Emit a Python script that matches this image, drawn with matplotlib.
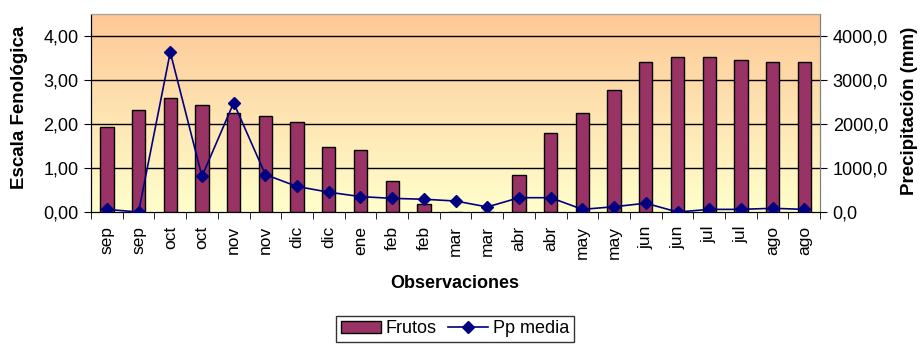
import numpy as np
import matplotlib.pyplot as plt
from matplotlib.colors import LinearSegmentedColormap

plt.rcParams['font.family'] = ['Liberation Sans', 'DejaVu Sans']

meses = ['sep', 'sep', 'oct', 'oct', 'nov', 'nov', 'dic', 'dic', 'ene', 'feb', 'feb',
         'mar', 'mar', 'abr', 'abr', 'may', 'may', 'jun', 'jun', 'jul', 'jul', 'ago', 'ago']
frutos = [1.93, 2.32, 2.58, 2.44, 2.25, 2.18, 2.05, 1.47, 1.40, 0.71, 0.19,
          0.0, 0.0, 0.85, 1.79, 2.25, 2.77, 3.40, 3.52, 3.52, 3.46, 3.40, 3.40]
pp_media = [60, 0, 3630, 810, 2480, 850, 580, 450, 350, 310, 290,
            250, 115, 325, 325, 60, 120, 200, 0, 60, 60, 85, 60]

fig = plt.figure(figsize=(9.23, 3.47), dpi=100)
ax = fig.add_axes([0.0986, 0.389, 0.790, 0.571])
ax2 = ax.twinx()

x = np.arange(len(meses))

# fondo degradado naranja -> amarillo claro
cmap = LinearSegmentedColormap.from_list('fondo', ['#FFFFCC', '#FDC896'])
grad = np.linspace(0, 1, 256).reshape(-1, 1)
ax.imshow(grad, cmap=cmap, aspect='auto', origin='lower',
          extent=[0, 1, 0, 1], transform=ax.transAxes, zorder=0)

ax.bar(x, frutos, width=0.42, color='#993366', edgecolor='black', linewidth=1.0,
       zorder=3, label='Frutos')
ax2.plot(x, pp_media, color='#000080', marker='D', markersize=6, linewidth=1.2,
         zorder=4, label='Pp media')

ax.set_xlim(-0.5, len(meses) - 0.5)
ax.set_ylim(0, 4.5)
ax2.set_ylim(0, 4500)
ax.set_yticks([0, 1, 2, 3, 4])
ax.set_yticklabels(['0,00', '1,00', '2,00', '3,00', '4,00'], fontsize=13)
ax2.set_yticks([0, 1000, 2000, 3000, 4000])
ax2.set_yticklabels(['0,0', '1000,0', '2000,0', '3000,0', '4000,0'], fontsize=13)

for v in [1, 2, 3, 4]:
    ax.axhline(v, color='black', linewidth=1.0, zorder=1)

ax.set_xticks(x)
ax.set_xticklabels(meses, rotation=90, fontsize=12.5)
ax.tick_params(axis='x', length=0, pad=10)
ax.set_xticks(np.arange(-0.5, len(meses), 1), minor=True)
ax.tick_params(axis='x', which='minor', length=5, direction='out', color='black')
ax.tick_params(axis='y', length=5, direction='out', pad=4)
ax2.tick_params(axis='y', length=5, direction='out', pad=4)

# títulos de los ejes
fig.text(455 / 923, 1 - 283 / 347, 'Observaciones', fontsize=13, fontweight='bold',
         ha='center', va='center')
fig.text(20 / 923, 1 - 107 / 347, 'Escala Fenológica', fontsize=13.5, fontweight='bold',
         ha='center', va='center', rotation=90)
fig.text(910 / 923, 1 - 111 / 347, 'Precipitación (mm)', fontsize=13.5, fontweight='bold',
         ha='center', va='center', rotation=90)

for a in (ax, ax2):
    a.spines['top'].set_color('#a0a0a0')
    a.spines['right'].set_color('#808080')
    a.spines['left'].set_color('black')
    a.spines['bottom'].set_color('black')
ax2.patch.set_visible(False)

h1, l1 = ax.get_legend_handles_labels()
h2, l2 = ax2.get_legend_handles_labels()
leg = fig.legend(h1 + h2, l1 + l2, loc='center', bbox_to_anchor=(0.493, 0.052),
                 ncol=2, fontsize=13, frameon=True, fancybox=False,
                 edgecolor='black', handlelength=2.2, columnspacing=0.6,
                 handletextpad=0.3, borderpad=0.25)
leg.get_frame().set_linewidth(1.0)

fig.savefig('out.png', dpi=100)
